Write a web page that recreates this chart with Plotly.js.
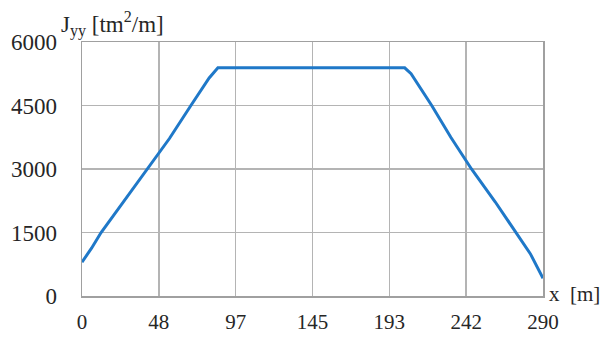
<!DOCTYPE html>
<html>
<head>
<meta charset="utf-8">
<script src="https://cdn.plot.ly/plotly-3.0.1.min.js"></script>
<style>html,body{margin:0;padding:0;background:#fff;}#chart{width:600px;height:339px;}</style>
</head>
<body>
<div id="chart"></div>
<script>
// Data
const xPos = [0, 6, 12, 25, 41, 55, 68.5, 80, 85.5, 203, 207, 220, 232, 245, 260, 273, 282, 290];
const jyy  = [800, 1130, 1500, 2180, 3000, 3720, 4500, 5150, 5390, 5390, 5250, 4500, 3750, 3000, 2220, 1500, 1000, 420];
const xTickVals = [0, 290/6, 290/3, 145, 290*2/3, 290*5/6, 290];
const xTickText = ['0', '48', '97', '145', '193', '242', '290'];
const yTickVals = [0, 1500, 3000, 4500, 6000];
const yTickText = ['0', '1500', '3000', '4500', '6000'];

const serif = 'Liberation Serif';
const xTickFont = {family: serif, size: 21, color: '#262626'};
const yTickFont = {family: serif, size: 23, color: '#262626'};
const trace = {
  x: xPos, y: jyy, type: 'scatter', mode: 'lines',
  line: {color: '#1f78c8', width: 3}, hoverinfo: 'skip'
};
const layout = {
  width: 600, height: 339,
  margin: {l: 82, r: 57, t: 42, b: 43},
  paper_bgcolor: '#fff', plot_bgcolor: '#fff',
  showlegend: false,
  font: {family: serif, size: 21, color: '#262626'},
  xaxis: {
    range: [0, 290], tickvals: xTickVals, ticktext: xTickText,
    showgrid: true, gridcolor: '#b4b4b4', gridwidth: 1.5,
    showline: true, linecolor: '#a0a0a0', linewidth: 1.5, mirror: true,
    ticks: '', ticklabelstandoff: 6, zeroline: false, tickfont: xTickFont
  },
  yaxis: {
    range: [0, 6000], tickvals: yTickVals, ticktext: yTickText,
    showgrid: true, gridcolor: '#b4b4b4', gridwidth: 1.5,
    showline: true, linecolor: '#a0a0a0', linewidth: 1.5, mirror: true,
    ticks: '', ticklabelstandoff: 19, zeroline: false, tickfont: yTickFont
  },
  annotations: [
    {text: 'J<sub>yy</sub> [tm<sup>2</sup>/m]', xref: 'paper', yref: 'paper',
     x: -0.05, y: 1.0, xanchor: 'left', yanchor: 'bottom', showarrow: false,
     font: {family: serif, size: 23, color: '#262626'}},
    {text: 'x  [m]', xref: 'paper', yref: 'paper',
     x: 1.0, y: 0, xanchor: 'left', yanchor: 'middle', xshift: 4, yshift: 2, showarrow: false,
     font: {family: serif, size: 21, color: '#262626'}}
  ]
};
Plotly.newPlot('chart', [trace], layout, {staticPlot: true, displayModeBar: false});
</script>
</body>
</html>
